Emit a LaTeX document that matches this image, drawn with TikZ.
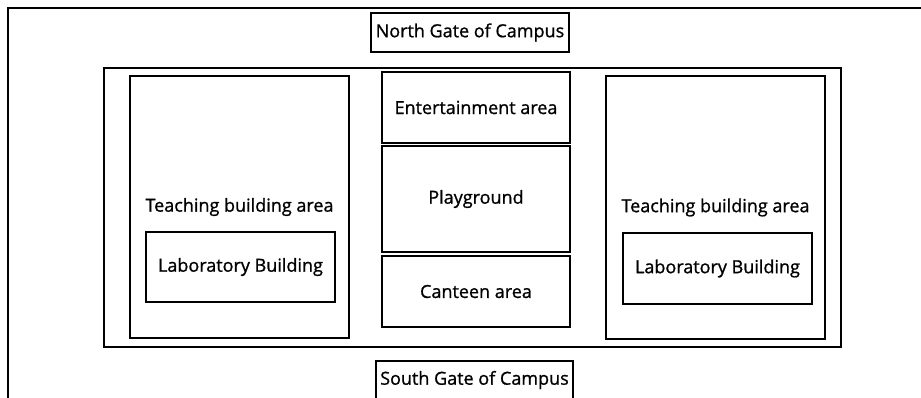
\documentclass[tikz,border=0pt]{standalone}
\usepackage{fontspec}
\setmainfont{Open Sans}
\newfontfamily\mapfont{Open Sans}[FakeBold=1]
\usetikzlibrary{positioning}

\begin{document}
\begin{tikzpicture}[
    x=1pt, y=-1pt,
    area/.style={rectangle, draw, line width=1.5pt, inner sep=0pt, font=\mapfont\fontsize{18}{21}\selectfont, text centered},
    frame/.style={draw, line width=1.5pt}
]
    \useasboundingbox (0,0) rectangle (921,398);

    % campus boundary (runs off the page right and bottom)
    \draw[frame] (8,402) -- (8,8) -- (925,8);

    \node (north) [area, minimum width=198pt, minimum height=39pt] at (470,32.5) {North Gate of Campus};
    \node (south) [area, minimum width=197pt, minimum height=38pt] at (474.5,380) {South Gate of Campus};

    % inner block
    \node (block) [area, minimum width=737pt, minimum height=279pt] at (472.5,207.5) {};

    \node (teachL) [area, minimum width=219pt, minimum height=262pt] at (239.5,207) {Teaching building area};
    \node (labL) [area, minimum width=189pt, minimum height=70pt] at (240.5,267) {Laboratory Building};

    \node (ent) [area, minimum width=188pt, minimum height=71pt] at (476,107.5) {Entertainment area};
    \node (play) [area, minimum width=188pt, minimum height=106pt] at (476,199) {Playground};
    \node (cant) [area, minimum width=188pt, minimum height=71pt] at (476,291.5) {Canteen area};

    \node (teachR) [area, minimum width=219pt, minimum height=263pt] at (715.5,207.5) {Teaching building area};
    \node (labR) [area, minimum width=189pt, minimum height=71pt] at (717.5,268.5) {Laboratory Building};
\end{tikzpicture}
\end{document}
